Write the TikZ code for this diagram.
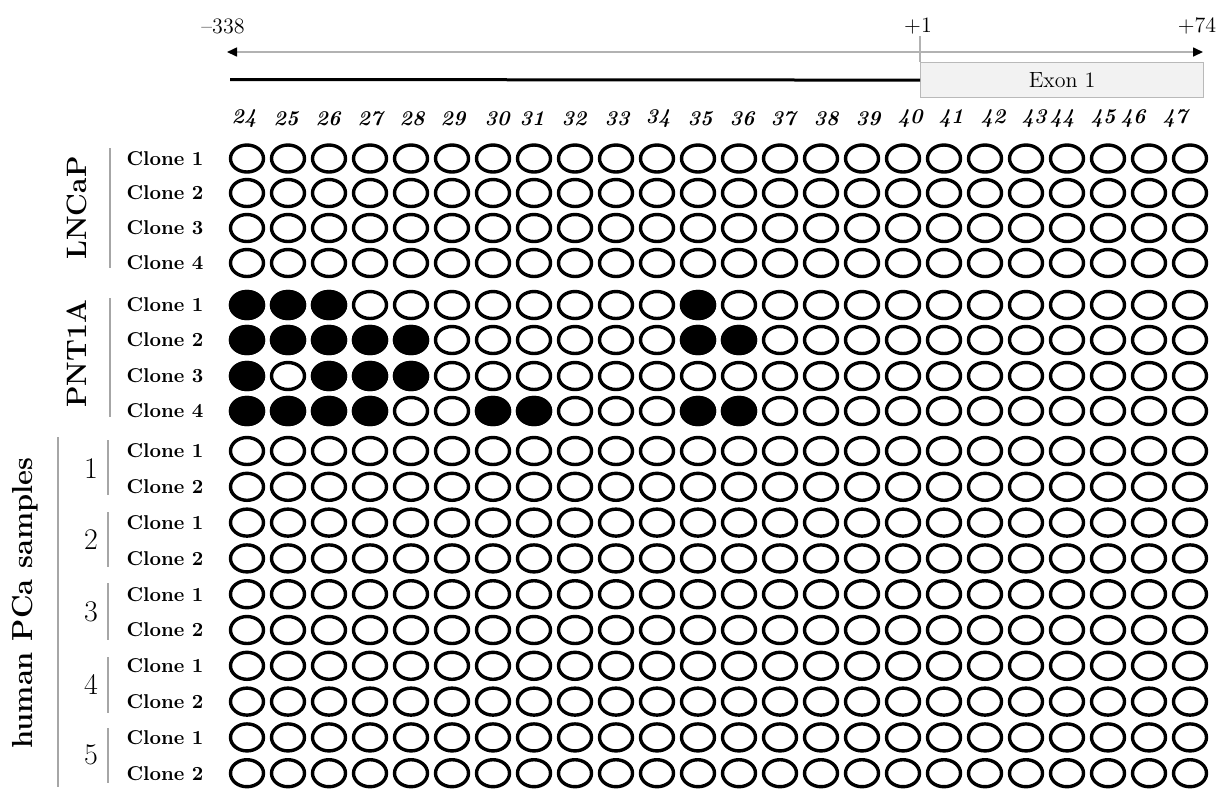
\documentclass[tikz,border=0pt]{standalone}
\usepackage{tikz}
\usetikzlibrary{arrows.meta, positioning}

\begin{document}
\begin{tikzpicture}[x=0.5pt, y=-0.5pt,
    site/.style={line width=1.7pt},
    bar/.style={draw=gray!70, line width=1.1pt},
    clone/.style={font=\bfseries\fontsize{10}{12}\selectfont},
    cpg/.style={font=\bfseries\itshape\fontsize{10.5}{12}\selectfont},
    group/.style={font=\bfseries\fontsize{14}{16}\selectfont, rotate=90},
    coordlabel/.style={font=\fontsize{11}{13}\selectfont}]
  \useasboundingbox (0,0) rectangle (1220,789);

  % positions and exon
  \node[coordlabel] (p338) at (223,26) {--338};
  \node[coordlabel] (p1) at (918,26) {+1};
  \node[coordlabel] (p74) at (1197,26) {+74};
  \coordinate (aleft) at (227,52);
  \coordinate (aright) at (1203,52);
  \draw[gray!60, line width=0.8pt, {Triangle[length=5pt, width=4.5pt, color=black]}-{Triangle[length=5pt, width=4.5pt, color=black]}] (aleft) -- (aright);
  \node[draw=gray!55, fill=gray!10, line width=0.6pt, minimum width=141.5pt, minimum height=17.5pt,
        inner sep=0pt, anchor=north west, font=\fontsize{11}{13}\selectfont] (exon) at (920,62) {Exon 1};
  \coordinate (tss) at (920,36);
  \coordinate (prom) at (230,79.5);
  \draw[gray!60, line width=0.6pt] (tss) -- (exon.north west);
  \draw[line width=1.5pt] (prom) -- (exon.west);

  % CpG numbers
  \foreach \n/\x in {24/244,25/286,26/328,27/370,28/412,29/453,30/497,31/532,32/574,33/617,34/658,35/700,
                     36/742,37/783,38/826,39/868,40/910,41/951,42/993,43/1034,44/1062,45/1103,46/1133,47/1175}
    \node[cpg] (n\n) at (\x,119) {\n};

  % open circles, all rows
  \foreach \y in {158.5,193,228,263,305,340,376,411,451,486.8,522.6,558.4,594.2,630,665.8,701.6,737.4,773.2}
    \foreach \c in {0,...,23}
      \draw[site] (247+41*\c,\y) ellipse [x radius=8.25pt, y radius=6.75pt];

  % methylated sites (PNT1A)
  \foreach \c/\y in {0/305,1/305,2/305,11/305,
                     0/340,1/340,2/340,3/340,4/340,11/340,12/340,
                     0/376,2/376,3/376,4/376,
                     0/411,1/411,2/411,3/411,6/411,7/411,11/411,12/411}
    \filldraw[site] (247+41*\c,\y) ellipse [x radius=8.25pt, y radius=6.75pt];

  % row labels
  \foreach \k/\y in {1/158.5,2/193,3/228,4/263}
    \node[clone] (lnc\k) at (165,\y) {Clone \k};
  \foreach \k/\y in {1/305,2/340,3/376,4/411}
    \node[clone] (pnt\k) at (165,\y) {Clone \k};
  \foreach \s/\ya/\yb in {1/451/486.8,2/522.6/558.4,3/594.2/630,4/665.8/701.6,5/737.4/773.2} {
    \node[clone] (pca\s a) at (165,\ya) {Clone 1};
    \node[clone] (pca\s b) at (165,\yb) {Clone 2};
  }

  % groups
  \node[group] (lncap) at (77,208) {LNCaP};
  \node[group] (pnt1a) at (77,354) {PNT1A};
  \node[group, font=\bfseries\fontsize{14.5}{17}\selectfont] (human) at (25,603) {human PCa samples};
  \draw[bar] (110,148) -- (110,268);
  \draw[bar] (110,298) -- (110,417);
  \draw[bar] (58,437) -- (58,787);
  \foreach \s/\yc/\ya/\yb in {1/469/440/495,2/540/512/567,3/612/583/640,4/684/657/713,5/755/728/783} {
    \node[font=\fontsize{15}{17}\selectfont] (s\s) at (91,\yc) {\s};
    \draw[bar] (108,\ya) -- (108,\yb);
  }
\end{tikzpicture}
\end{document}
